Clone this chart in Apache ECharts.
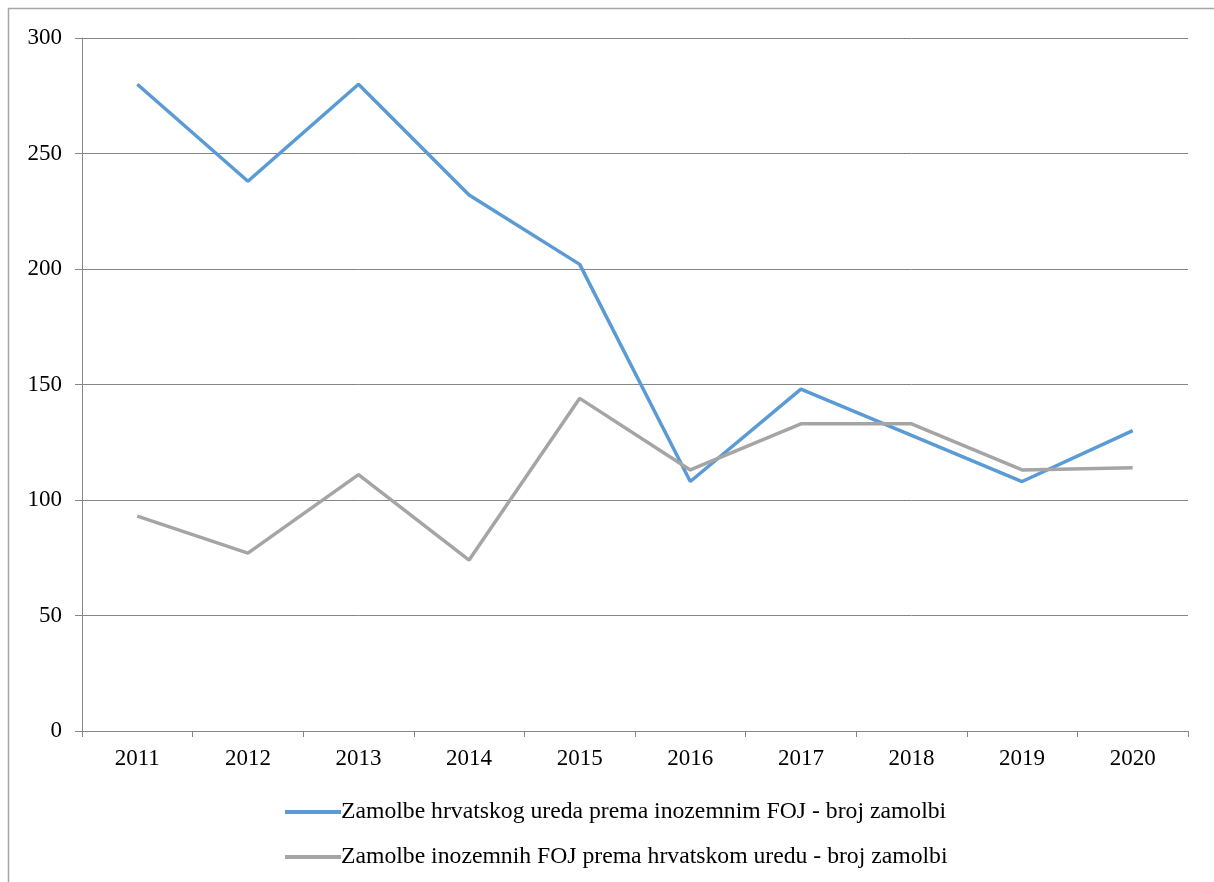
<!DOCTYPE html>
<html>
<head>
<meta charset="utf-8">
<script src="https://cdn.jsdelivr.net/npm/echarts@6/dist/echarts.min.js"></script>
<style>
  html, body { margin: 0; padding: 0; background: #fff; }
  #chart { width: 1214px; height: 882px; }
</style>
</head>
<body>
<div id="chart"></div>
<script>
const years = ['2011', '2012', '2013', '2014', '2015', '2016', '2017', '2018', '2019', '2020'];
const outgoingName = 'Zamolbe hrvatskog ureda prema inozemnim FOJ - broj zamolbi';
const incomingName = 'Zamolbe inozemnih FOJ prema hrvatskom uredu - broj zamolbi';
const outgoing = [280, 238, 280, 232, 202, 108, 148, 128, 108, 130];
const incoming = [93, 77, 111, 74, 144, 113, 133, 133, 113, 114];

const font = 'Liberation Serif, Times New Roman, serif';
const chart = echarts.init(document.getElementById('chart'), null, { renderer: 'canvas' });

chart.setOption({
  animation: false,
  textStyle: { fontFamily: font },
  graphic: [{
    type: 'rect',
    shape: { x: 8.5, y: 8.5, width: 1220, height: 900 },
    style: { fill: 'none', stroke: '#a6a6a6', lineWidth: 1.5 },
    silent: true
  }],
  grid: { left: 82, right: 26, top: 38, bottom: 151, containLabel: false },
  xAxis: {
    type: 'category',
    data: years,
    boundaryGap: true,
    axisLine: { lineStyle: { color: '#868686', width: 1 } },
    axisTick: { show: true, length: 6, lineStyle: { color: '#868686' }, alignWithLabel: false },
    axisLabel: { color: '#000', fontSize: 23, fontFamily: font, margin: 16 },
    splitLine: { show: false }
  },
  yAxis: {
    type: 'value',
    min: 0,
    max: 300,
    interval: 50,
    axisLine: { show: true, lineStyle: { color: '#868686', width: 1 } },
    axisTick: { show: true, length: 7, lineStyle: { color: '#868686' } },
    axisLabel: { color: '#000', fontSize: 23, fontFamily: font, margin: 20 },
    splitLine: { show: true, lineStyle: { color: '#868686', width: 1 } }
  },
  legend: {
    orient: 'vertical',
    left: 280,
    top: 795,
    itemGap: 21,
    itemWidth: 56,
    itemHeight: 4,
    icon: 'rect',
    textStyle: { color: '#000', fontSize: 23.7, fontFamily: font, padding: [0, 0, 0, -5] },
    data: [outgoingName, incomingName]
  },
  series: [
    {
      name: outgoingName,
      type: 'line',
      data: outgoing,
      symbol: 'none',
      lineStyle: { color: '#5b9bd5', width: 3.5 },
      itemStyle: { color: '#5b9bd5' }
    },
    {
      name: incomingName,
      type: 'line',
      data: incoming,
      symbol: 'none',
      lineStyle: { color: '#a5a5a5', width: 3.5 },
      itemStyle: { color: '#a5a5a5' }
    }
  ]
});
</script>
</body>
</html>
